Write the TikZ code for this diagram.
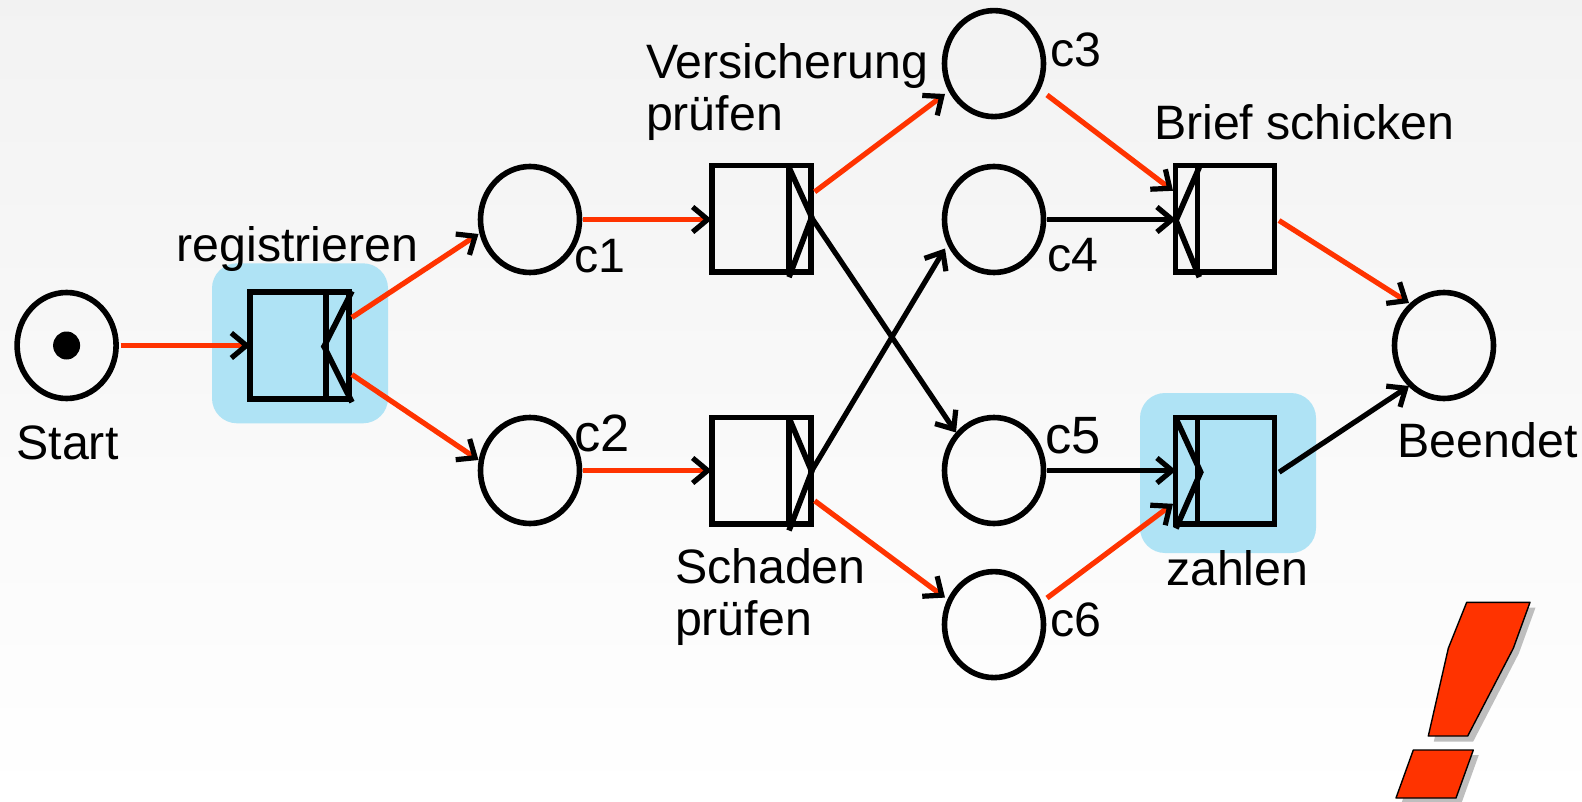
\documentclass[tikz,border=0pt]{standalone}
\usepackage{fontspec}
\setmainfont{Liberation Sans}
\usetikzlibrary{arrows.meta,shapes.geometric}
\definecolor{hlblue}{HTML}{AFE3F5}
\definecolor{netred}{HTML}{FF3300}
\definecolor{shadowgrey}{HTML}{BEBEBE}
\tikzset{
  placenode/.style={draw=black,line width=5.6pt,ellipse,inner sep=0pt,outer sep=0pt,minimum width=99pt,minimum height=106pt},
  transnode/.style={draw=black,line width=5.6pt,rectangle,inner sep=0pt,outer sep=0pt,minimum width=99pt,minimum height=106.5pt},
  tokennode/.style={fill=black,ellipse,inner sep=0pt,outer sep=0pt,minimum width=27pt,minimum height=28pt},
  lab/.style={anchor=base west,inner sep=0pt,outer sep=0pt,font=\fontsize{48.3}{52}\selectfont,align=left},
  biglab/.style={lab,font=\fontsize{52.5}{56}\selectfont},
  hl/.style={fill=hlblue,rounded corners=25pt,draw=none},
  blackarc/.style={draw=black,line width=5.2pt,-{Straight Barb[length=15pt,width=25pt,color=black,line width=5.2pt]}},
  redarc/.style={draw=netred,line width=5.2pt,-{Straight Barb[length=15pt,width=25pt,color=black,line width=5.2pt]}},
  gateline/.style={draw=black,line width=5.6pt,line join=miter},
  markpoly/.style={fill=netred,draw=black,line width=1.4pt,line join=round},
  markshadow/.style={fill=shadowgrey,draw=none},
}
\newcommand{\gateglyph}[8]{%
  \draw[gateline] ([shift={(#2,-53)}]#1.center) -- ([shift={(#2,56)}]#1.center);
  \draw[gateline] ([shift={(#3,#4)}]#1.center) -- ([shift={(#5,#6)}]#1.center) -- ([shift={(#7,#8)}]#1.center);
}
\begin{document}
\begin{tikzpicture}[x=1pt,y=-1pt]
\useasboundingbox (0,0) rectangle (1582,802);
\shade[top color=black!5,bottom color=white] (0,0) rectangle (1582,802);
% highlights
\fill[hl] (212,263.3) rectangle (388,423.3);
\fill[hl] (1140,393) rectangle (1316,553);
% places
\node[placenode] (start) at (66.6,345.5) {};
\node[tokennode] (token) at (66.6,345.5) {};
\node[placenode] (c1) at (530,219.5) {};
\node[placenode] (c2) at (530,470.5) {};
\node[placenode] (c3) at (994,63.6) {};
\node[placenode] (c4) at (994,219.5) {};
\node[placenode] (c5) at (994,470.5) {};
\node[placenode] (c6) at (994,624.6) {};
\node[placenode] (end) at (1444,345.5) {};
% transitions
\node[transnode] (reg) at (299.4,345.5) {};
\node[transnode] (vers) at (761.2,218.8) {};
\node[transnode] (scha) at (761.2,470.8) {};
\node[transnode] (brief) at (1225,218.8) {};
\node[transnode] (zahl) at (1225,470.8) {};
\gateglyph{reg}{26.6}{52.6}{-54.3}{24.6}{1}{52.6}{56.7}
\gateglyph{vers}{27.8}{27.8}{-51.3}{50.5}{-1.6}{27.8}{58.4}
\gateglyph{scha}{27.8}{27.8}{-53}{50.5}{0.7}{27.8}{59.7}
\gateglyph{brief}{-27.7}{-25.7}{-51.6}{-49}{1.7}{-25.7}{58.4}
\gateglyph{zahl}{-27.7}{-49}{-52.3}{-24.3}{1.4}{-49}{57.7}
% arcs
\draw[redarc] ([xshift=4.5pt]start.east) -- ([xshift=0.5pt]reg.west);
\draw[redarc] ([shift={(3,-28)}]reg.east) -- ([shift={(-51.5,14.5)}]c1.center);
\draw[redarc] ([shift={(3,29)}]reg.east) -- ([shift={(-51.5,-10.5)}]c2.center);
\draw[redarc] ([xshift=3pt]c1.east |- c1.center) -- (vers.west |- c1.center);
\draw[redarc] ([xshift=3pt]c2.east |- c2.center) -- (scha.west |- c2.center);
\draw[redarc] ([shift={(4,-27)}]vers.east) -- ([shift={(-49,30.4)}]c3.center);
\draw[blackarc] ([shift={(1,-1)}]vers.east) -- ([shift={(-38,-38)}]c5.center);
\draw[blackarc] ([shift={(1,0)}]scha.east) -- ([shift={(-49,29)}]c4.center);
\draw[redarc] ([shift={(4,30)}]scha.east) -- ([shift={(-49,-27)}]c6.center);
\draw[redarc] ([shift={(53,31.4)}]c3.center) -- ([shift={(-2.5,-28)}]brief.west);
\draw[blackarc] ([xshift=3pt]c4.east) -- ([xshift=0.5pt]brief.west |- c4.center);
\draw[blackarc] ([xshift=3pt]c5.east) -- ([xshift=0.5pt]zahl.west |- c5.center);
\draw[redarc] ([shift={(53,-26.6)}]c6.center) -- ([shift={(-2.5,33)}]zahl.west);
\draw[redarc] ([shift={(4.5,1.7)}]brief.east) -- ([shift={(-35,-42.5)}]end.center);
\draw[blackarc] ([shift={(4.7,1.4)}]zahl.east) -- ([shift={(-35,40.5)}]end.center);
% labels
\node[lab] (lstart) at (16.5,459) {Start};
\node[lab] (lreg) at (176.8,262) {registrieren};
\node[lab] (lc1) at (574,272.5) {c1};
\node[biglab] (lc2) at (574.5,451.5) {c2};
\node[lab] (lc3) at (1050.5,66.6) {c3};
\node[lab] (lc4) at (1047.5,271.4) {c4};
\node[biglab] (lc5) at (1045.5,453.5) {c5};
\node[lab] (lc6) at (1050.5,636.7) {c6};
\node[lab] (lvers) at (646,78.7) {Versicherung};
\node[lab] (lvers2) at (646,131) {prüfen};
\node[lab] (lscha) at (675,583) {Schaden};
\node[lab] (lscha2) at (675,635) {prüfen};
\node[lab] (lbrief) at (1154,140) {Brief schicken};
\node[lab] (lzahl) at (1166,585) {zahlen};
\node[lab] (lend) at (1397.5,457) {Beendet};
% exclamation mark
\fill[markshadow] (1472,607.5) -- (1535.5,607.5) -- (1518.8,653.5) -- (1473.2,741.5) -- (1433.8,741.5) -- (1453.8,653.5) -- cycle;
\fill[markshadow] (1418.8,755) -- (1478.8,755) -- (1461.5,803) -- (1401.5,803) -- cycle;
\draw[markpoly] (1466.7,602.3) -- (1530,602.3) -- (1513.3,648.3) -- (1467.7,736) -- (1428.3,736) -- (1448.3,648.3) -- cycle;
\draw[markpoly] (1413.3,750) -- (1473.3,750) -- (1456,798) -- (1396,798) -- cycle;
\end{tikzpicture}
\end{document}
